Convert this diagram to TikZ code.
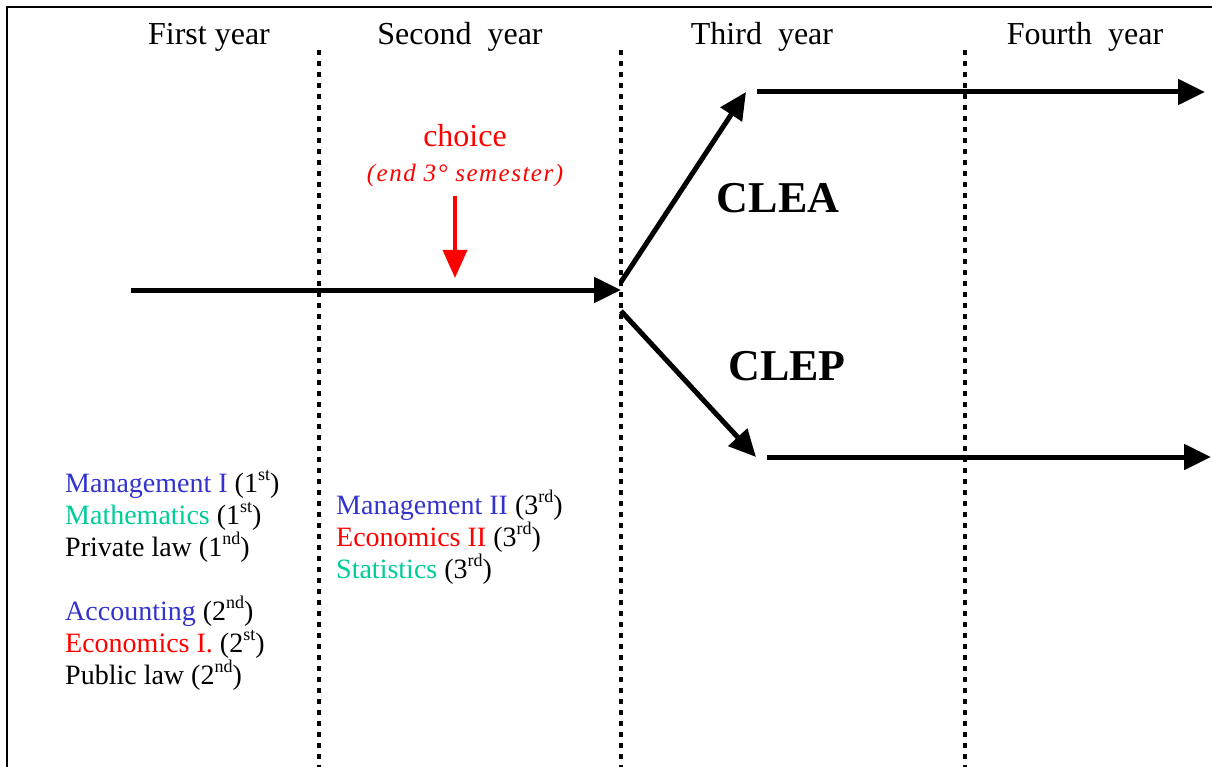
\documentclass[tikz,border=0pt]{standalone}
\usepackage{fontspec}
\setmainfont{Liberation Serif}
\usepackage{tikz}
\usetikzlibrary{arrows.meta}
\usetikzlibrary{positioning}

\definecolor{mgmtblue}{RGB}{51,51,204}
\definecolor{quantgreen}{RGB}{0,204,153}

\newcommand{\ordn}[1]{\raisebox{0.42em}{\fontsize{18}{18}\selectfont #1}}

\tikzset{
  yearlabel/.style={anchor=base, inner sep=0pt, font=\fontsize{32}{38}\selectfont},
  course/.style={anchor=base west, inner sep=0pt, font=\fontsize{28}{32}\selectfont},
  degree/.style={anchor=base, inner sep=0pt, font=\bfseries\fontsize{44}{50}\selectfont},
  divider/.style={line width=4.5pt, dash pattern=on 5pt off 6pt},
  flow/.style={line width=5pt, -{Triangle[length=27pt,width=25pt]}},
}

\begin{document}
\begin{tikzpicture}[x=1pt,y=-1pt]
    \useasboundingbox (0,0) rectangle (1212,767);
    \draw[line width=2pt] (7,767) -- (7,7) -- (1212,7);

    % years
    \node[yearlabel] (first) at (209,45) {First year};
    \node[yearlabel] (second) at (460,45) {Second\ \ year};
    \node[yearlabel] (third) at (762,45) {Third\ \ year};
    \node[yearlabel] (fourth) at (1085,45) {Fourth\ \ year};

    \draw[divider] (319,50) -- (319,767);
    \draw[divider] (621,50) -- (621,767);
    \draw[divider] (965,50) -- (965,767);

    % common path and the two branches
    \coordinate (start) at (131,290);
    \coordinate (fork) at (621,290);
    \coordinate (upfrom) at (621,282);
    \coordinate (uptip) at (746,92);
    \coordinate (cleafrom) at (757,92);
    \coordinate (cleato) at (1205,92);
    \coordinate (downfrom) at (621,311);
    \coordinate (downtip) at (756,457);
    \coordinate (clepfrom) at (767,457);
    \coordinate (clepto) at (1211,457);
    \draw[flow] (start) -- (fork);
    \draw[flow] (upfrom) -- (uptip);
    \draw[flow] (cleafrom) -- (cleato);
    \draw[flow] (downfrom) -- (downtip);
    \draw[flow] (clepfrom) -- (clepto);

    \node[degree] (clea) at (778,213) {CLEA};
    \node[degree] (clep) at (787,380) {CLEP};

    % choice
    \node[anchor=base, inner sep=0pt, text=red, font=\fontsize{32}{38}\selectfont] (choice) at (465,147) {choice};
    \node[anchor=base, inner sep=0pt, text=red, font=\itshape\fontsize{25}{30}\selectfont\addfontfeatures{LetterSpace=6}] (when) at (465,182) {(end 3° semester)};
    \coordinate (choicetop) at (455,196);
    \coordinate (choicetip) at (455,278);
    \draw[red, line width=3.5pt, -{Triangle[length=28pt,width=24pt]}] (choicetop) -- (choicetip);

    % courses
    \node[course] (mgmt1) at (65,492) {\textcolor{mgmtblue}{Management I} (1\ordn{st})};
    \node[course] (math) at (65,524) {\textcolor{quantgreen}{Mathematics} (1\ordn{st})};
    \node[course] (privlaw) at (65,556) {Private law (1\ordn{nd})};
    \node[course] (acc) at (65,620) {\textcolor{mgmtblue}{Accounting} (2\ordn{nd})};
    \node[course] (eco1) at (65,652) {\textcolor{red}{Economics I.} (2\ordn{st})};
    \node[course] (publaw) at (65,684) {Public law (2\ordn{nd})};

    \node[course] (mgmt2) at (336,514) {\textcolor{mgmtblue}{Management II} (3\ordn{rd})};
    \node[course] (eco2) at (336,546) {\textcolor{red}{Economics II} (3\ordn{rd})};
    \node[course] (stat) at (336,578) {\textcolor{quantgreen}{Statistics} (3\ordn{rd})};

\end{tikzpicture}
\end{document}
